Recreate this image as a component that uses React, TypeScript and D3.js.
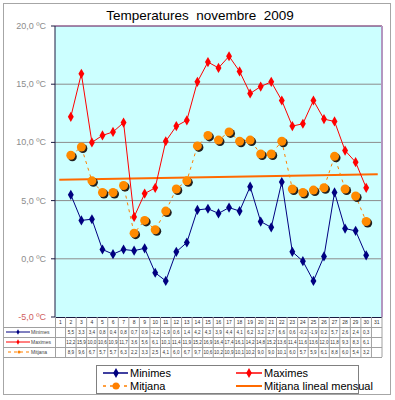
import React from 'react'
import * as d3 from 'd3'

const days = ['1','2','3','4','5','6','7','8','9','10','11','12','13','14','15','16','17','18','19','20','21','22','23','24','25','26','27','28','29','30','31']

// dies 1 i 31 sense dades
const minimes = [null, 5.5, 3.3, 3.4, 0.8, 0.4, 0.8, 0.7, 0.9, -1.2, -1.9, 0.6, 1.4, 4.2, 4.3, 3.9, 4.4, 4.1, 6.2, 3.2, 2.7, 6.6, 0.6, -0.2, -1.9, 0.2, 5.7, 2.6, 2.4, 0.3, null]
const maximes = [null, 12.2, 15.9, 10.0, 10.6, 10.9, 11.7, 3.6, 5.6, 6.1, 10.1, 11.4, 11.9, 15.2, 16.9, 16.4, 17.4, 16.1, 14.2, 14.8, 15.2, 13.6, 11.4, 11.6, 13.6, 12.0, 11.8, 9.3, 8.3, 6.1, null]
const mitjana = [null, 8.9, 9.6, 6.7, 5.7, 5.7, 6.3, 2.2, 3.3, 2.5, 4.1, 6.0, 6.7, 9.7, 10.6, 10.2, 10.9, 10.1, 10.2, 9.0, 9.0, 10.1, 6.0, 5.7, 5.9, 6.1, 8.8, 6.0, 5.4, 3.2, null]
const trendDays = ['1', '31']
const trendValues = [6.8, 7.26]
const yTicks = [-5, 0, 5, 10, 15, 20]

const W = 395, H = 400
const margin = {left: 55, right: 382, top: 26, bottom: 317}
const rowH = 10

const fmt = (v: number) => d3.format('.1f')(v).replace('.', ',').replace('−', '-')

export default function App() {
  const x = d3.scaleBand().domain(days).range([margin.left, margin.right]).padding(0)
  const y = d3.scaleLinear().domain([-5, 20]).range([margin.bottom, margin.top])
  const cx = (d: string) => (x(d) as number) + x.bandwidth() / 2

  const line = d3.line<number | null>()
    .defined(d => d !== null)
    .x((_, i) => cx(days[i]))
    .y(d => y(d as number))

  const diamond = d3.symbol().type(d3.symbolDiamond).size(30)()

  const series = [
    {name: 'Minimes', values: minimes, color: '#000080'},
    {name: 'Maximes', values: maximes, color: '#ff0000'},
  ]

  const tableTop = margin.bottom
  const rows = [
    {name: 'Minimes', values: minimes, color: '#000080', kind: 'diamond'},
    {name: 'Maximes', values: maximes, color: '#ff0000', kind: 'diamond'},
    {name: 'Mitjana', values: mitjana, color: '#ff8000', kind: 'circle'},
  ]
  const tableBottom = tableTop + rowH * 4

  const font = 'Liberation Sans, Arial, sans-serif'

  return (
    <svg width={W} height={H} style={{position: 'absolute', left: 0, top: 0}} fontFamily={font}>
      <rect x={0} y={0} width={W} height={H} fill="#fff" />
      <rect x={3.5} y={3.5} width={387} height={391} fill="#fff" stroke="#a6a6a6" />
      <text x={200} y={20} textAnchor="middle" fontSize={13.5} fill="#000" style={{whiteSpace: 'pre'}}>Temperatures  novembre  2009</text>

      {/* plot area */}
      <rect x={margin.left} y={margin.top} width={margin.right - margin.left} height={margin.bottom - margin.top} fill="#ccffff" />
      {yTicks.filter(t => t > -5 && t < 20).map(t => (
        <line key={t} x1={margin.left} x2={margin.right} y1={y(t)} y2={y(t)} stroke="#8c8c8c" />
      ))}
      <line x1={margin.left} x2={margin.right} y1={margin.top} y2={margin.top} stroke="#5a0a50" />
      <line x1={margin.right} x2={margin.right} y1={margin.top} y2={margin.bottom} stroke="#b496c0" strokeWidth={2} />
      <line x1={margin.left} x2={margin.left} y1={margin.top} y2={margin.bottom} stroke="#1a1a40" />
      {yTicks.map(t => (
        <g key={t}>
          <line x1={margin.left - 4} x2={margin.left} y1={y(t)} y2={y(t)} stroke="#1a1a40" />
          <text x={margin.left - 9} y={y(t) + 3} textAnchor="end" fontSize={9} fill={t < 0 ? '#d06060' : '#8c8c8c'}>{fmt(t)} ºC</text>
        </g>
      ))}

      {/* trend */}
      <line x1={cx(trendDays[0]) - 1} x2={cx(trendDays[1]) + 1} y1={y(trendValues[0])} y2={y(trendValues[1])} stroke="#ff6a00" strokeWidth={2} />

      {/* mitjana */}
      <path d={line(mitjana) || ''} fill="none" stroke="#ff8000" strokeWidth={1} strokeDasharray="3,4" />
      {mitjana.map((v, i) => v === null ? null : (
        <g key={i}>
          <circle cx={cx(days[i]) + 1.5} cy={y(v) + 1.5} r={4.5} fill="#202020" />
          <circle cx={cx(days[i])} cy={y(v)} r={4.5} fill="#ff8a00" />
        </g>
      ))}

      {series.map(s => (
        <g key={s.name}>
          <path d={line(s.values) || ''} fill="none" stroke={s.color} strokeWidth={1} />
          {s.values.map((v, i) => v === null ? null : (
            <path key={i} d={diamond || ''} transform={`translate(${cx(days[i])},${y(v)})`} fill={s.color} />
          ))}
        </g>
      ))}

      {/* data table */}
      <g fontSize={5} fill="#333">
        {[tableTop, tableTop + rowH, tableTop + rowH * 2, tableTop + rowH * 3, tableBottom].map((yy, i) => (
          <line key={i} x1={i === 0 ? margin.left : 3.5} x2={margin.right} y1={yy + 0.5} y2={yy + 0.5} stroke={i === 0 ? '#1a1a40' : '#a0a0a0'} />
        ))}
        <line x1={margin.left + 0.5} x2={margin.left + 0.5} y1={tableTop} y2={tableBottom} stroke="#a0a0a0" />
        {days.map(d => (
          <g key={d}>
            <line x1={(x(d) as number) + x.bandwidth()} x2={(x(d) as number) + x.bandwidth()} y1={tableTop} y2={tableBottom} stroke="#a0a0a0" />
            <text x={cx(d)} y={tableTop + 7} textAnchor="middle">{d}</text>
          </g>
        ))}
        {rows.map((r, ri) => {
          const ry = tableTop + rowH * (ri + 1)
          const my = ry + rowH / 2
          return (
            <g key={r.name}>
              {r.kind === 'circle' ? (
                <g>
                  <line x1={8} x2={30} y1={my} y2={my} stroke={r.color} strokeDasharray="3,3" />
                  <circle cx={19} cy={my} r={1.5} fill={r.color} />
                </g>
              ) : (
                <g>
                  <line x1={6} x2={30} y1={my} y2={my} stroke={r.color} />
                  <path d={d3.symbol().type(d3.symbolDiamond).size(8)() || ''} transform={`translate(18,${my})`} fill={r.color} />
                </g>
              )}
              <text x={31} y={my + 2} fill="#444">{r.name}</text>
              {r.values.map((v, i) => v === null ? null : (
                <text key={i} x={cx(days[i])} y={my + 2} textAnchor="middle" fontSize={4.6}>{fmt(v)}</text>
              ))}
            </g>
          )
        })}
      </g>

      {/* legend */}
      <g fontSize={11} fill="#000">
        <rect x={96.5} y={365.5} width={262} height={28} fill="#fff" stroke="#808080" />
        <line x1={103} x2={128} y1={373} y2={373} stroke="#000080" strokeWidth={1.5} />
        <path d={d3.symbol().type(d3.symbolDiamond).size(28)() || ''} transform="translate(116,373)" fill="#000080" />
        <text x={130} y={377}>Minimes</text>
        <line x1={236} x2={262} y1={373} y2={373} stroke="#ff0000" strokeWidth={1.5} />
        <path d={d3.symbol().type(d3.symbolDiamond).size(28)() || ''} transform="translate(249,373)" fill="#ff0000" />
        <text x={264} y={377}>Maximes</text>
        <line x1={103} x2={128} y1={386} y2={386} stroke="#ff8000" strokeWidth={1.5} strokeDasharray="3,4" />
        <circle cx={116} cy={386} r={3.5} fill="#ff8000" />
        <text x={130} y={390}>Mitjana</text>
        <line x1={236} x2={262} y1={386} y2={386} stroke="#ff6a00" strokeWidth={2} />
        <text x={264} y={390}>Mitjana lineal mensual</text>
      </g>
    </svg>
  )
}
